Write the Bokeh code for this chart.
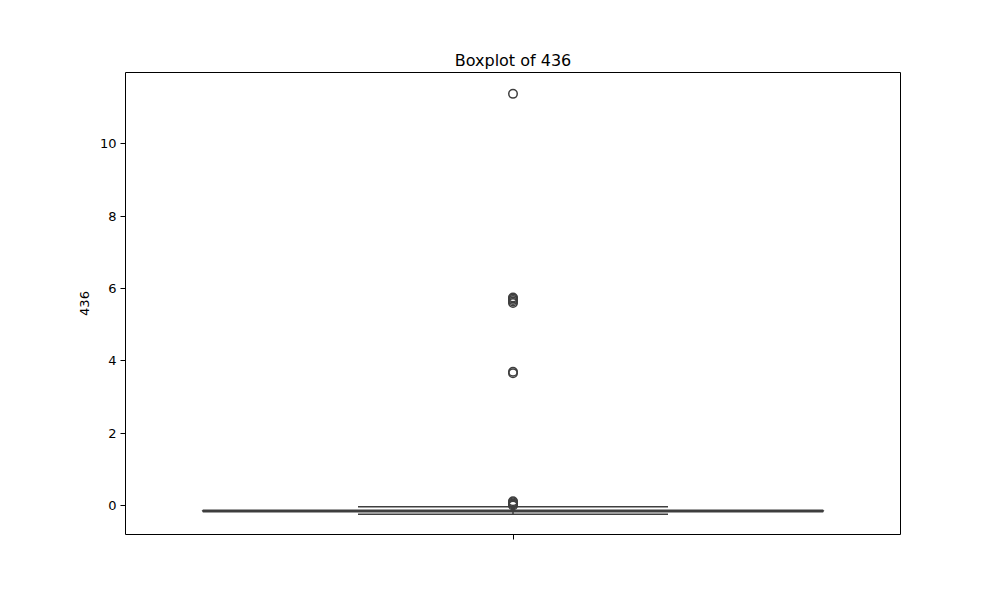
from bokeh.plotting import figure
from bokeh.models import FixedTicker, Range1d, ColumnDataSource
from bokeh.embed import file_html
from bokeh.resources import INLINE

# --- data ---
title_text = "Boxplot of 436"
y_label = "436"
box_q1 = [-0.17]
box_median = [-0.15]
box_q3 = [-0.13]
whisker_low = [-0.24]
whisker_high = [-0.03]
outliers = [0.0, 0.03, 0.06, 0.09, 0.12, 3.66, 3.70, 5.60, 5.64, 5.68, 5.72, 5.75, 11.38]
y_ticks = [0, 2, 4, 6, 8, 10]

EDGE = "#3f3f3f"
FONT = "DejaVu Sans"

p = figure(
    output_backend="svg", toolbar_location=None,
    frame_width=775, frame_height=462,
    min_border_left=125, min_border_right=84, min_border_top=72, min_border_bottom=50,
    x_range=Range1d(-0.5, 0.5), y_range=Range1d(-0.80, 11.97),
    title=title_text,
)
p.background_fill_color = "white"
p.border_fill_color = "white"
p.xgrid.visible = False
p.ygrid.visible = False
p.outline_line_color = "black"
p.outline_line_width = 1

p.title.align = "center"
p.title.text_font = FONT
p.title.text_font_size = "16px"
p.title.text_font_style = "normal"
p.title.text_color = "black"
p.title.standoff = 6

for ax in (p.xaxis[0], p.yaxis[0]):
    ax.axis_line_color = None
    ax.major_tick_line_color = "black"
    ax.major_tick_in = 0
    ax.major_tick_out = 5
    ax.minor_tick_line_color = None
    ax.major_label_text_font = FONT
    ax.major_label_text_font_size = "13px"
    ax.major_label_text_color = "black"

p.xaxis.ticker = FixedTicker(ticks=[0])
p.xaxis.major_label_overrides = {0: ""}
p.yaxis.ticker = FixedTicker(ticks=y_ticks)
p.yaxis.axis_label = y_label
p.yaxis.axis_label_text_font = FONT
p.yaxis.axis_label_text_font_size = "13px"
p.yaxis.axis_label_text_font_style = "normal"
p.yaxis.axis_label_text_color = "black"
p.yaxis.axis_label_standoff = 8
p.yaxis.major_label_standoff = 4

x0 = [0]
# whiskers
p.segment(x0=x0, y0=box_q3, x1=x0, y1=whisker_high, line_color=EDGE, line_width=1.5)
p.segment(x0=x0, y0=box_q1, x1=x0, y1=whisker_low, line_color=EDGE, line_width=1.5)
# caps
p.segment(x0=[-0.2], y0=whisker_high, x1=[0.2], y1=whisker_high, line_color=EDGE, line_width=1.5)
p.segment(x0=[-0.2], y0=whisker_low, x1=[0.2], y1=whisker_low, line_color=EDGE, line_width=1.5)
# box
p.quad(left=[-0.4], right=[0.4], bottom=box_q1, top=box_q3,
       fill_color=EDGE, line_color=EDGE, line_width=1.5)
# median
p.segment(x0=[-0.4], y0=box_median, x1=[0.4], y1=box_median, line_color=EDGE, line_width=1.5)
# outliers
src = ColumnDataSource(dict(x=[0] * len(outliers), y=outliers))
p.scatter("x", "y", source=src, marker="circle", size=8.5,
          fill_color=None, line_color=EDGE, line_width=1.5)

open("out.html", "w").write(file_html(p, INLINE))
